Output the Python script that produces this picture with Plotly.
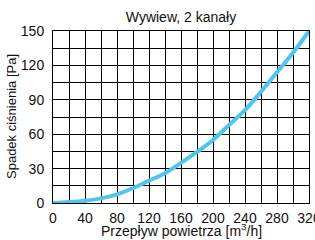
import plotly.graph_objects as go

flow = [0, 20, 40, 60, 80, 100, 120, 140, 160, 180, 200, 220, 240, 260, 280, 300, 320]
pressure = [0, 0.8, 2, 4, 7.5, 13, 19.5, 26, 35, 44.5, 55, 68, 81, 97, 114, 131, 150]

x_ticks = [0, 40, 80, 120, 160, 200, 240, 280, 320]
y_ticks = [0, 30, 60, 90, 120, 150]

W, H = 315, 240
L, R, T, B = 53, 6, 31, 37

fig = go.Figure()
fig.add_trace(go.Scatter(
    x=flow, y=pressure, mode="lines",
    line=dict(color="#4FC6EE", width=4, shape="spline"),
    showlegend=False, cliponaxis=False,
))

font = "Liberation Sans, Arial, sans-serif"
fig.update_layout(
    width=W, height=H,
    margin=dict(l=L, r=R, t=T, b=B, autoexpand=False),
    paper_bgcolor="white", plot_bgcolor="white",
    font=dict(family=font, color="#111111", size=14),
    title=dict(text="Wywiew, 2 kanały", x=0.5, xref="paper", xanchor="center",
               y=1 - 17/H, yanchor="middle", font=dict(size=14, family=font, color="#111111")),
    annotations=[
        dict(text="Przepływ powietrza [m<sup>3</sup>/h]", xref="paper", yref="paper",
             x=0.5, y=-(230 - (H - B)) / (H - T - B), xanchor="center", yanchor="middle",
             showarrow=False, font=dict(size=14)),
        dict(text="Spadek ciśnienia [Pa]", xref="paper", yref="paper", textangle=-90,
             x=-(L - 11) / (W - L - R), y=0.5, xanchor="center", yanchor="middle",
             showarrow=False, font=dict(size=13)),
    ],
)
fig.update_xaxes(
    range=[0, 320], tickvals=x_ticks, ticktext=[str(v) for v in x_ticks],
    showgrid=True, gridcolor="#000000", gridwidth=1,
    minor=dict(dtick=20, tick0=0, showgrid=True, gridcolor="#000000", gridwidth=1),
    showline=True, linecolor="#000000", linewidth=1, mirror=True,
    ticks="", ticklabelstandoff=2, zeroline=False, ticklabeloverflow="allow",
    tickfont=dict(size=14),
)
fig.update_yaxes(
    range=[0, 150], tickvals=y_ticks, ticktext=[str(v) for v in y_ticks],
    showgrid=True, gridcolor="#000000", gridwidth=1,
    minor=dict(dtick=15, tick0=0, showgrid=True, gridcolor="#000000", gridwidth=1),
    showline=True, linecolor="#000000", linewidth=1, mirror=True,
    ticks="", ticklabelstandoff=5, zeroline=False, ticklabeloverflow="allow",
    tickfont=dict(size=14),
)

fig.write_html("out.html", config={"displayModeBar": False},
               post_script="document.body.style.margin='0';")
